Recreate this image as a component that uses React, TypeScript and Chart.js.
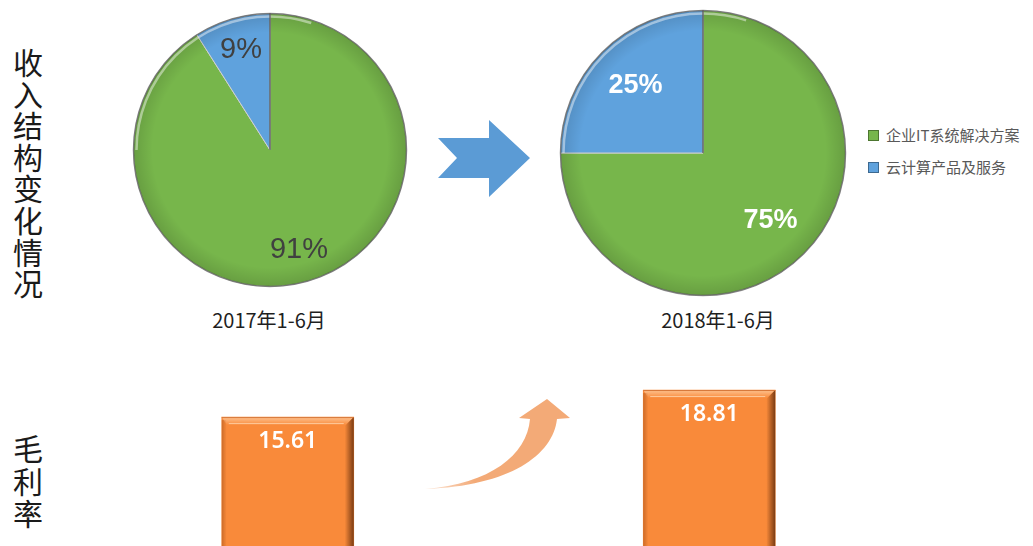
import React, { useEffect, useRef } from 'react';
import { Chart, registerables } from 'chart.js';

Chart.register(...registerables);

// ---- data ----
const pieCategories = ['企业IT系统解决方案', '云计算产品及服务'];
const share2017 = [91, 9];
const share2018 = [75, 25];
const periodLabels = ['2017年1-6月', '2018年1-6月'];
const marginValues = [15.61, 18.81];
const titleRevenue = '收入结构变化情况';
const titleMargin = '毛利率';

// ---- style ----
const GREEN = '#77B64B';
const BLUE = '#5FA2DD';
const ORANGE = '#F98A3A';
const CJK = '"Noto Sans CJK SC", "Noto Sans", sans-serif';

const pieBevel = {
  id: 'pieBevel',
  afterDatasetsDraw(chart: any) {
    const arcs = chart.getDatasetMeta(0).data;
    if (!arcs.length) return;
    const { x, y, outerRadius: r } = arcs[0];
    const ctx = chart.ctx;
    ctx.save();
    const g = ctx.createRadialGradient(x, y, r * 0.86, x, y, r);
    g.addColorStop(0, 'rgba(0,0,0,0)');
    g.addColorStop(1, 'rgba(0,0,0,0.13)');
    ctx.fillStyle = g;
    ctx.beginPath();
    ctx.arc(x, y, r, 0, Math.PI * 2);
    ctx.fill();
    ctx.strokeStyle = 'rgba(255,255,255,0.45)';
    ctx.lineWidth = 2.5;
    ctx.beginPath();
    ctx.arc(x, y, r - 3, Math.PI * 1.0, Math.PI * 1.6);
    ctx.stroke();
    ctx.strokeStyle = 'rgba(60,60,60,0.55)';
    ctx.lineWidth = 1.5;
    ctx.beginPath();
    ctx.arc(x, y, r, 0, Math.PI * 2);
    ctx.stroke();
    // dark separator at 12 o'clock
    ctx.strokeStyle = 'rgba(70,70,70,0.75)';
    ctx.lineWidth = 1.5;
    ctx.beginPath();
    ctx.moveTo(x, y);
    ctx.lineTo(x, y - r);
    ctx.stroke();
    ctx.restore();
  },
};

const pieLabels = {
  id: 'pieLabels',
  afterDraw(chart: any) {
    const opts = chart.options.plugins.pieLabels;
    const arcs = chart.getDatasetMeta(0).data;
    const values = chart.data.datasets[0].data;
    const ctx = chart.ctx;
    ctx.save();
    ctx.font = opts.font;
    ctx.fillStyle = opts.color;
    ctx.textAlign = 'center';
    ctx.textBaseline = 'middle';
    arcs.forEach((a: any, i: number) => {
      const mid = (a.startAngle + a.endAngle) / 2;
      const rr = a.outerRadius * opts.radius;
      ctx.fillText(values[i] + '%', a.x + Math.cos(mid) * rr, a.y + Math.sin(mid) * rr);
    });
    ctx.restore();
  },
};

function PieChart(props: { values: number[]; left: number; top: number; size: number; padding: number; font: string; color: string; radius: number }) {
  const ref = useRef<HTMLCanvasElement>(null);
  useEffect(() => {
    const chart = new Chart(ref.current as HTMLCanvasElement, {
      type: 'pie',
      data: {
        labels: pieCategories,
        datasets: [
          {
            data: props.values,
            backgroundColor: [GREEN, BLUE],
            borderColor: ['#cfcfcf', '#cfcfcf'],
            borderWidth: 1,
          },
        ],
      },
      options: {
        animation: false,
        responsive: false,
        maintainAspectRatio: false,
        layout: { padding: props.padding },
        plugins: {
          legend: { display: false },
          tooltip: { enabled: false },
          pieLabels: { font: props.font, color: props.color, radius: props.radius },
        } as any,
      },
      plugins: [pieBevel, pieLabels],
    });
    return () => chart.destroy();
  }, []);
  return (
    <canvas
      ref={ref}
      width={props.size}
      height={props.size}
      style={{ position: 'absolute', left: props.left, top: props.top, width: props.size, height: props.size }}
    />
  );
}

const barBevel = {
  id: 'barBevel',
  afterDatasetsDraw(chart: any) {
    const ctx = chart.ctx;
    const values = chart.data.datasets[0].data;
    chart.getDatasetMeta(0).data.forEach((b: any, i: number) => {
      const l = b.x - b.width / 2;
      const r = b.x + b.width / 2;
      const t = b.y;
      const bot = b.base;
      ctx.save();
      const gt = ctx.createLinearGradient(0, t, 0, t + 8);
      gt.addColorStop(0, 'rgba(255,205,160,0.85)');
      gt.addColorStop(1, 'rgba(255,205,160,0)');
      ctx.fillStyle = gt;
      ctx.beginPath();
      ctx.moveTo(l, t);
      ctx.lineTo(r, t);
      ctx.lineTo(r - 8, t + 8);
      ctx.lineTo(l + 5, t + 8);
      ctx.closePath();
      ctx.fill();
      ctx.strokeStyle = 'rgba(255,215,175,0.8)';
      ctx.lineWidth = 1;
      ctx.beginPath();
      ctx.moveTo(l + 7, t + 6.5);
      ctx.lineTo(r - 10, t + 6.5);
      ctx.stroke();
      const gr = ctx.createLinearGradient(r - 9, 0, r, 0);
      gr.addColorStop(0, 'rgba(90,40,10,0)');
      gr.addColorStop(1, 'rgba(90,40,10,0.8)');
      ctx.fillStyle = gr;
      ctx.beginPath();
      ctx.moveTo(r, t);
      ctx.lineTo(r, bot);
      ctx.lineTo(r - 9, bot);
      ctx.lineTo(r - 9, t + 9);
      ctx.closePath();
      ctx.fill();
      const gl = ctx.createLinearGradient(l, 0, l + 5, 0);
      gl.addColorStop(0, 'rgba(150,70,20,0.45)');
      gl.addColorStop(1, 'rgba(150,70,20,0)');
      ctx.fillStyle = gl;
      ctx.fillRect(l, t + 3, 5, bot - t);
      ctx.strokeStyle = 'rgba(210,110,45,0.9)';
      ctx.beginPath();
      ctx.moveTo(l, t + 0.5);
      ctx.lineTo(r, t + 0.5);
      ctx.stroke();
      ctx.fillStyle = '#ffffff';
      ctx.font = '600 23px "Noto Sans", "Liberation Sans", sans-serif';
      ctx.textAlign = 'center';
      ctx.textBaseline = 'middle';
      ctx.fillText(values[i].toFixed(2), b.x, t + 24);
      ctx.restore();
    });
  },
};

function MarginBars() {
  const ref = useRef<HTMLCanvasElement>(null);
  useEffect(() => {
    const chart = new Chart(ref.current as HTMLCanvasElement, {
      type: 'bar',
      data: {
        labels: periodLabels,
        datasets: [{ data: marginValues, backgroundColor: ORANGE, borderWidth: 0, barThickness: 132 }],
      },
      options: {
        animation: false,
        responsive: false,
        maintainAspectRatio: false,
        layout: { padding: 0 },
        scales: {
          x: { display: false },
          y: { display: false, min: 0, max: 20 },
        },
        plugins: { legend: { display: false }, tooltip: { enabled: false } },
      },
      plugins: [barBevel],
    });
    return () => chart.destroy();
  }, []);
  return (
    <canvas
      ref={ref}
      width={843}
      height={169}
      style={{ position: 'absolute', left: 77, top: 380, width: 843, height: 169 }}
    />
  );
}

function VerticalText({ text, left, top, lh }: { text: string; left: number; top: number; lh: number }) {
  return (
    <div
      style={{
        position: 'absolute',
        left,
        top,
        width: 34,
        fontFamily: CJK,
        fontSize: 30,
        lineHeight: lh + 'px',
        color: '#1a1a1a',
        textAlign: 'center',
      }}
    >
      {text.split('').map((c, i) => (
        <div key={i}>{c}</div>
      ))}
    </div>
  );
}

export default function App() {
  const legendColors = [GREEN, BLUE];
  return (
    <div
      style={{
        position: 'fixed',
        left: 0,
        top: 0,
        width: 1033,
        height: 546,
        overflow: 'hidden',
        background: '#ffffff',
      }}
    >
      <VerticalText text={titleRevenue} left={11} top={46} lh={31.6} />
      <VerticalText text={titleMargin} left={11} top={431} lh={32.5} />

      <PieChart values={share2017} left={130} top={10} size={280} padding={3} font='29px "Liberation Sans", Arial, sans-serif' color="#404040" radius={0.76} />
      <PieChart values={share2018} left={558} top={8} size={290} padding={2} font='bold 27px "Liberation Sans", Arial, sans-serif' color="#ffffff" radius={0.67} />

      {periodLabels.map((p, i) => (
        <div
          key={p}
          style={{
            position: 'absolute',
            left: (i === 0 ? 269 : 718) - 100,
            top: 307,
            width: 200,
            textAlign: 'center',
            fontFamily: CJK,
            fontSize: 20,
            lineHeight: '26px',
            color: '#1f1f1f',
          }}
        >
          {p}
        </div>
      ))}

      {pieCategories.map((c, i) => (
        <div key={c} style={{ position: 'absolute', left: 868, top: 127 + i * 32, height: 16, display: 'flex', alignItems: 'center' }}>
          <div
            style={{
              width: 9,
              height: 9,
              background: legendColors[i],
              border: '1px solid rgba(0,0,0,0.35)',
              marginRight: 7,
            }}
          />
          <span style={{ fontFamily: CJK, fontSize: 15, lineHeight: '16px', color: '#595959' }}>{c}</span>
        </div>
      ))}

      <svg width={1033} height={546} style={{ position: 'absolute', left: 0, top: 0 }}>
        <defs>
          <linearGradient id="og" x1="405" y1="0" x2="475" y2="0" gradientUnits="userSpaceOnUse">
            <stop offset="0" stopColor="#F3AA77" stopOpacity="0" />
            <stop offset="1" stopColor="#F3AA77" stopOpacity="1" />
          </linearGradient>
        </defs>
        <polygon points="438,138 489,138 489,120 530,158 489,197 489,178 438,178 457,158" fill="#5B9BD5" />
        <path
          d="M519,418 L547,399 L570,418 L557,419 C553,455 510,486 425,489 C490,484 527,455 530,419 Z"
          fill="url(#og)"
        />
      </svg>

      <MarginBars />
    </div>
  );
}
